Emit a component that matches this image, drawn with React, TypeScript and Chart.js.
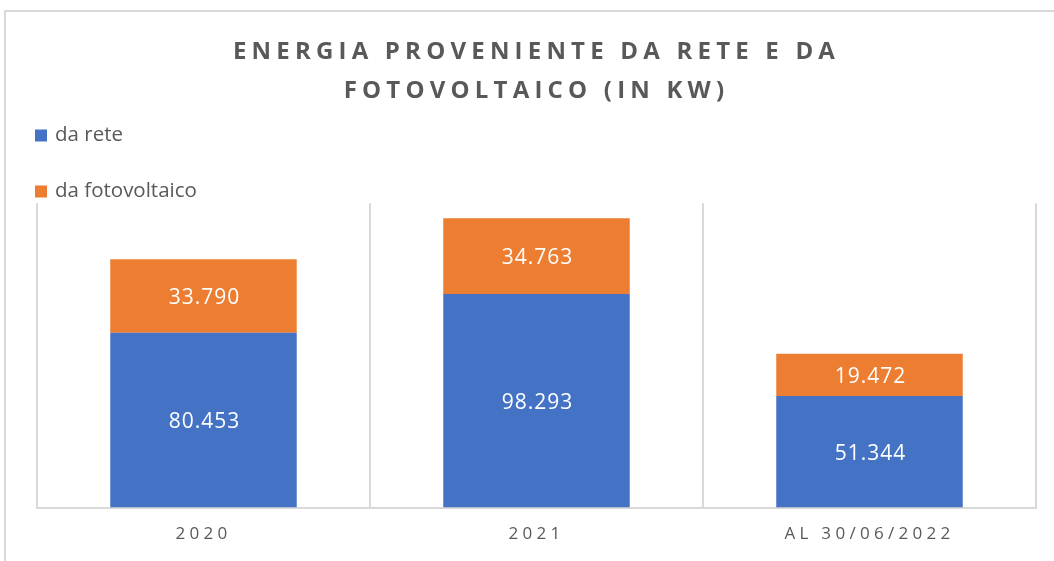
import React, { useEffect, useRef } from 'react';
import { Chart, registerables } from 'chart.js';

Chart.register(...registerables);

const TITLE_LINES = ['ENERGIA PROVENIENTE DA RETE E DA', 'FOTOVOLTAICO (IN KW)'];
const CATEGORIES = ['2020', '2021', 'AL 30/06/2022'];
const SERIES_NAMES = ['da rete', 'da fotovoltaico'];
const DA_RETE = [80453, 98293, 51344];
const DA_FOTOVOLTAICO = [33790, 34763, 19472];
const SERIES_COLORS = ['#4472C4', '#ED7D31'];
const Y_MAX = 140000;

const TEXT_GRAY = '#595959';
const LINE_GRAY = '#d9d9d9';
const FONT = '"Open Sans", "DejaVu Sans", sans-serif';

const fmt = (v: number) => String(Math.round(v)).replace(/\B(?=(\d{3})+(?!\d))/g, '.');

const stylePlugin = {
  id: 'excelStyle',
  beforeDraw(chart: any) {
    chart.ctx.letterSpacing = '5.2px';
  },
  afterDatasetsDraw(chart: any) {
    const ctx = chart.ctx;
    ctx.save();
    ctx.letterSpacing = '1px';
    ctx.fillStyle = '#ffffff';
    ctx.font = `21px ${FONT}`;
    ctx.textAlign = 'center';
    ctx.textBaseline = 'middle';
    chart.data.datasets.forEach((ds: any, di: number) => {
      const meta = chart.getDatasetMeta(di);
      meta.data.forEach((bar: any, i: number) => {
        const { x, y, base } = bar.getProps(['x', 'y', 'base'], true);
        ctx.fillText(fmt(ds.data[i]), x + 1, (y + base) / 2 + 2);
      });
    });
    ctx.restore();
    chart.ctx.letterSpacing = '4.3px';
  },
  afterDraw(chart: any) {
    const ctx = chart.ctx;
    ctx.letterSpacing = '0px';
    ctx.save();
    ctx.font = `20.5px ${FONT}`;
    ctx.textAlign = 'left';
    ctx.textBaseline = 'middle';
    chart.data.datasets.forEach((ds: any, i: number) => {
      const cy = 135.5 + i * 56;
      ctx.fillStyle = ds.backgroundColor;
      ctx.fillRect(35, cy - 6, 12, 12);
      ctx.fillStyle = TEXT_GRAY;
      ctx.fillText(ds.label, 55, cy);
    });
    ctx.restore();
  },
};

export default function App() {
  const ref = useRef<HTMLCanvasElement | null>(null);

  useEffect(() => {
    if (!ref.current) return;
    const chart = new Chart(ref.current, {
      type: 'bar',
      data: {
        labels: CATEGORIES,
        datasets: [
          { label: SERIES_NAMES[0], data: DA_RETE, backgroundColor: SERIES_COLORS[0] },
          { label: SERIES_NAMES[1], data: DA_FOTOVOLTAICO, backgroundColor: SERIES_COLORS[1] },
        ],
      },
      options: {
        responsive: false,
        animation: false,
        devicePixelRatio: 1,
        layout: { padding: { left: 37, right: 18, top: 0, bottom: 1 } },
        datasets: { bar: { categoryPercentage: 1, barPercentage: 0.56 } },
        scales: {
          x: {
            stacked: true,
            grid: { display: true, color: LINE_GRAY, lineWidth: 2, drawTicks: false, offset: true },
            border: { display: true, color: LINE_GRAY, width: 2 },
            ticks: {
              z: 1,
              padding: 16,
              color: TEXT_GRAY,
              font: { family: FONT, size: 17, lineHeight: 1.2 },
              maxRotation: 0,
            },
          },
          y: {
            stacked: true,
            display: false,
            min: 0,
            max: Y_MAX,
          },
        },
        plugins: {
          legend: { display: false },
          tooltip: { enabled: false },
          title: {
            display: true,
            text: TITLE_LINES,
            color: TEXT_GRAY,
            font: { family: FONT, size: 24, weight: 'bold', lineHeight: 1.65 },
            padding: { top: 32, bottom: 92 },
          },
        },
      },
      plugins: [stylePlugin],
    } as any);
    return () => chart.destroy();
  }, []);

  return (
    <div style={{ position: 'absolute', left: 0, top: 0, width: 1054, height: 561, background: '#fff', overflow: 'hidden' }}>
      <div
        style={{
          position: 'absolute',
          left: 4,
          top: 10,
          width: 1054,
          height: 561,
          borderTop: `2px solid ${LINE_GRAY}`,
          borderLeft: `2px solid ${LINE_GRAY}`,
          boxSizing: 'border-box',
        }}
      />
      <canvas ref={ref} width={1054} height={561} style={{ position: 'absolute', left: 0, top: 0, width: 1054, height: 561 }} />
    </div>
  );
}
